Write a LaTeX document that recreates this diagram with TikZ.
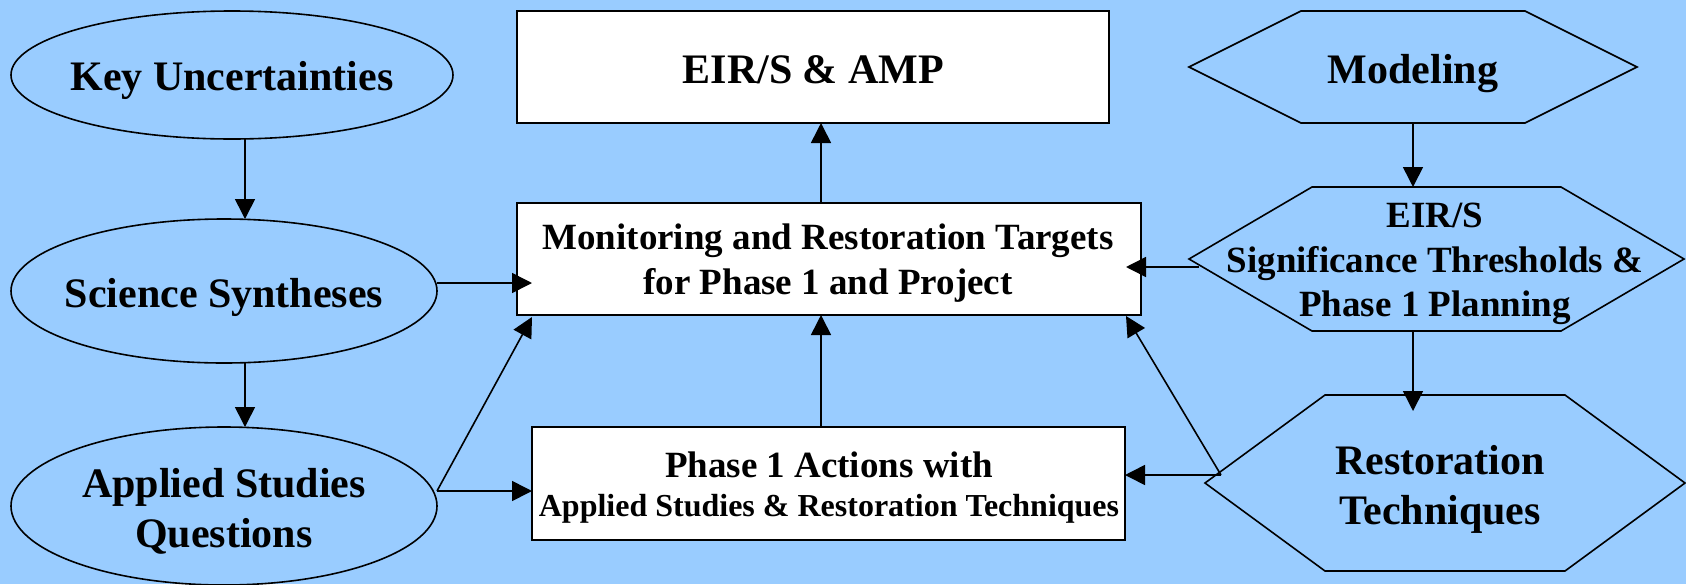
\documentclass[tikz,border=0pt]{standalone}
\usepackage{fontspec}
\setmainfont{Liberation Serif}[BoldFont={Liberation Serif Bold}]
\usetikzlibrary{shapes.geometric,arrows.meta}
\definecolor{bg}{RGB}{153,204,255}
\begin{document}
\begin{tikzpicture}[x=1pt,y=-1pt,line width=1.6pt,
  every node/.style={outer sep=0pt},
  big/.style={font=\bfseries\fontsize{42}{50}\selectfont, align=center, inner sep=0pt},
  mid/.style={font=\bfseries\fontsize{37}{45}\selectfont, align=center, inner sep=0pt},
  oval/.style={ellipse, draw, fill=bg, inner sep=0pt},
  box/.style={rectangle, draw, fill=white, inner sep=0pt},
  hexbox/.style={rectangle, inner sep=0pt},
  hex/.style={draw, fill=bg, line join=miter},
  arr/.style={-{Triangle[length=20pt,width=20pt]}}]
\fill[bg] (0,0) rectangle (1686,584);
\useasboundingbox (0,0) rectangle (1686,584);

% left column ellipses
\node[oval, minimum width=442pt, minimum height=128pt] (ku) at (232,75) {};
\node[big, anchor=base] (kut) at (232,90.7) {Key Uncertainties};
\node[oval, minimum width=426pt, minimum height=144pt] (ss) at (224,291) {};
\node[big, anchor=base] (sst) at (224,307) {Science Syntheses};
\node[oval, minimum width=426pt, minimum height=158pt] (asq) at (224,506) {};
\node[big] (asqt) at (224,511.6) {Applied Studies\\Questions};

% middle boxes
\node[box, minimum width=592pt, minimum height=112pt] (eir) at (813,67) {};
\node[big, anchor=base] (eirt) at (813.4,83) {EIR/S \& AMP};
\node[box, minimum width=624pt, minimum height=112pt] (mon) at (829,259) {};
\node[mid] (mont) at (828,263.5) {Monitoring and Restoration Targets\\for Phase 1 and Project};
\node[box, minimum width=593pt, minimum height=113pt] (p1) at (828.5,483.5) {};
\node[font=\bfseries\fontsize{37}{39}\selectfont, align=center, inner sep=0pt] (p1t) at (829,487.7)
  {Phase 1 Actions with\\{\fontsize{32}{39}\selectfont Applied Studies \& Restoration Techniques}};

% right hexagons
\node[hexbox, minimum width=448pt, minimum height=112pt] (mod) at (1413,67) {};
\draw[hex] (mod.west) -- ([xshift=112pt]mod.north west) -- ([xshift=-112pt]mod.north east)
  -- (mod.east) -- ([xshift=-112pt]mod.south east) -- ([xshift=112pt]mod.south west) -- cycle;
\node[big, anchor=base] (modt) at (1413,83.3) {Modeling};

\node[hexbox, minimum width=495pt, minimum height=144pt] (eirs) at (1436.5,259) {};
\draw[hex] (eirs.west) -- ([xshift=123pt]eirs.north west) -- ([xshift=-123pt]eirs.north east)
  -- (eirs.east) -- ([xshift=-123pt]eirs.south east) -- ([xshift=123pt]eirs.south west) -- cycle;
\node[font=\bfseries\fontsize{37}{44.6}\selectfont, align=center, inner sep=0pt] (eirst) at (1435,263.9)
  {EIR/S\\Significance Thresholds \&\\Phase 1 Planning};

\node[hexbox, minimum width=480pt, minimum height=176pt] (rest) at (1445,483) {};
\draw[hex] (rest.west) -- ([xshift=120pt]rest.north west) -- ([xshift=-120pt]rest.north east)
  -- (rest.east) -- ([xshift=-120pt]rest.south east) -- ([xshift=120pt]rest.south west) -- cycle;
\node[big] (restt) at (1440,489.2) {Restoration\\Techniques};

% connectors
\coordinate (xa) at (245,0);
\draw[arr] (ku.south -| xa) -- (ss.north -| xa);
\draw[arr] (ss.south -| xa) -- (asq.north -| xa);

\coordinate (sso) at ([yshift=8pt]ss.east);
\draw[arr, shorten >=-15pt] (sso) -- (mon.west |- sso);

\coordinate (aqo) at ([yshift=15pt]asq.east);
\draw[arr] (aqo) -- (p1.west |- aqo);
\draw[arr] (aqo) -- ([xshift=15pt,yshift=-2pt]mon.south west);

\coordinate (xm) at (821,0);
\draw[arr] (p1.north -| xm) -- (mon.south -| xm);
\draw[arr] (mon.north -| xm) -- (eir.south -| xm);

\draw[arr] (mod.south) -- (eirs.north -| mod.south);
\draw[arr, shorten >=-16pt] (eirs.south -| mod.south) -- (rest.north -| mod.south);

\coordinate (eo) at ([xshift=10pt,yshift=-8pt]eirs.west);
\draw[arr, shorten >=-15pt] (eo) -- (mon.east |- eo);

\coordinate (ro) at ([xshift=16pt,yshift=8pt]rest.west);
\draw[arr] (ro) -- (p1.east |- ro);
\draw[arr] (ro) -- ([xshift=-15pt,yshift=-1pt]mon.south east);
\end{tikzpicture}
\end{document}
